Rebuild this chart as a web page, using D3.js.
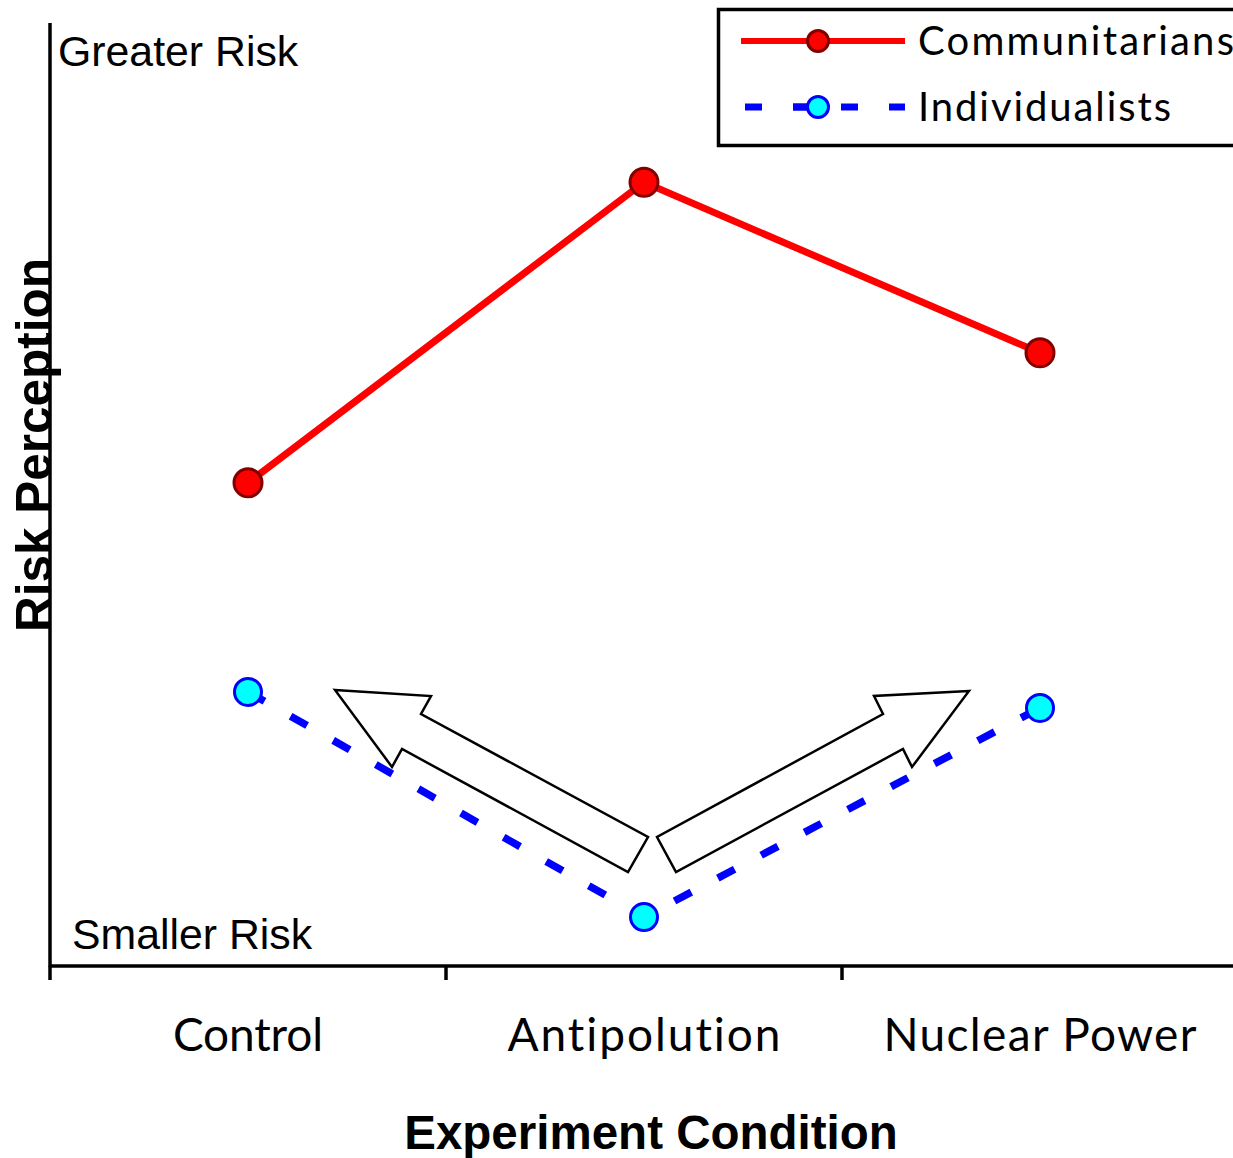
<!DOCTYPE html>
<html>
<head>
<meta charset="utf-8">
<script src="https://cdn.jsdelivr.net/npm/d3@7"></script>
<style>
  body { margin: 0; background: #fff; }
  svg { display: block; }
  text { font-variant-ligatures: none; }
</style>
</head>
<body>
<svg id="chart" width="1233" height="1158"></svg>
<script>
// data (arbitrary risk units, no tick labels on the y axis)
const categories = ["Control", "Antipolution", "Nuclear Power"];
const communitarians = [5.14, 8.33, 6.52];
const individualists = [2.92, 0.53, 2.75];
const seriesNames = ["Communitarians", "Individualists"];

const svg = d3.select("#chart");

const x = d3.scaleBand().domain(categories).range([50, 1238]);
const y = d3.scaleLinear().domain([0, 10]).range([967, 25]);
const cx = (d) => x(d) + x.bandwidth() / 2;

// axes
const xAxis = svg.append("g").attr("transform", "translate(0,966)");
xAxis.append("line").attr("x1", 49).attr("x2", 1240).attr("stroke", "#000").attr("stroke-width", 3.5);
xAxis.selectAll("line.tick")
  .data(categories.map((c) => x(c)))
  .enter().append("line")
  .attr("class", "tick")
  .attr("x1", (d) => d).attr("x2", (d) => d)
  .attr("y1", 0).attr("y2", 14)
  .attr("stroke", "#000").attr("stroke-width", 3.5);

svg.append("line")
  .attr("x1", 50).attr("x2", 50)
  .attr("y1", 23).attr("y2", 967)
  .attr("stroke", "#000").attr("stroke-width", 3.5);

// category labels
const labelWidths = [150, 273, 313];
svg.selectAll("text.cat")
  .data(categories)
  .enter().append("text")
  .attr("class", "cat")
  .attr("x", (d) => cx(d))
  .attr("y", 1051)
  .attr("text-anchor", "middle")
  .attr("font-family", "Lato, 'Open Sans', sans-serif")
  .attr("font-size", 46)
  .attr("textLength", (d, i) => labelWidths[i])
  .attr("lengthAdjust", "spacing")
  .text((d) => d);

// axis titles
svg.append("text")
  .attr("x", 651).attr("y", 1149)
  .attr("text-anchor", "middle")
  .attr("font-family", "'Liberation Sans', Arial, sans-serif")
  .attr("font-weight", "bold")
  .attr("font-size", 47.5)
  .text("Experiment Condition");

svg.append("text")
  .attr("transform", "translate(51,445) rotate(-90)")
  .attr("text-anchor", "middle")
  .attr("font-family", "'Liberation Sans', Arial, sans-serif")
  .attr("font-weight", "bold")
  .attr("font-size", 49.5)
  .text("Risk Perception");

svg.append("text")
  .attr("x", 58).attr("y", 66)
  .attr("font-family", "'Liberation Sans', Arial, sans-serif")
  .attr("font-size", 42.8)
  .text("Greater Risk");

svg.append("text")
  .attr("x", 72).attr("y", 949)
  .attr("font-family", "'Liberation Sans', Arial, sans-serif")
  .attr("font-size", 42.8)
  .text("Smaller Risk");

// block arrows (annotation)
const arrows = [
  [[335, 690], [431, 696], [421, 714], [648, 837], [628, 872], [402, 749], [392, 767]],
  [[969, 691], [874, 696], [883, 714], [657, 837], [676, 872], [903, 749], [912, 767]]
];
svg.selectAll("path.arrow")
  .data(arrows)
  .enter().append("path")
  .attr("class", "arrow")
  .attr("d", (d) => "M" + d.join("L") + "Z")
  .attr("fill", "#fff")
  .attr("stroke", "#000")
  .attr("stroke-width", 2.5)
  .attr("stroke-linejoin", "miter");

const line = d3.line().x((d, i) => cx(categories[i])).y((d) => y(d));

// individualists
svg.append("path")
  .datum(individualists)
  .attr("d", line)
  .attr("fill", "none")
  .attr("stroke", "#0000ff")
  .attr("stroke-width", 7.5)
  .attr("stroke-dasharray", "19,30");

svg.selectAll("circle.ind")
  .data(individualists)
  .enter().append("circle")
  .attr("class", "ind")
  .attr("cx", (d, i) => cx(categories[i]))
  .attr("cy", (d) => y(d))
  .attr("r", 13.5)
  .attr("fill", "#00ffff")
  .attr("stroke", "#0000ff")
  .attr("stroke-width", 3);

// communitarians
svg.append("path")
  .datum(communitarians)
  .attr("d", line)
  .attr("fill", "none")
  .attr("stroke", "#ff0000")
  .attr("stroke-width", 7);

svg.selectAll("circle.com")
  .data(communitarians)
  .enter().append("circle")
  .attr("class", "com")
  .attr("cx", (d, i) => cx(categories[i]))
  .attr("cy", (d) => y(d))
  .attr("r", 14)
  .attr("fill", "#ff0000")
  .attr("stroke", "#800000")
  .attr("stroke-width", 3);

// legend
const legend = svg.append("g");
legend.append("rect")
  .attr("x", 718.5).attr("y", 9.5)
  .attr("width", 600).attr("height", 136)
  .attr("fill", "#fff")
  .attr("stroke", "#000")
  .attr("stroke-width", 3.5);

const legendY = [41, 107];
const legendTextW = [316, 253];

legend.append("line")
  .attr("x1", 741).attr("x2", 905)
  .attr("y1", legendY[0]).attr("y2", legendY[0])
  .attr("stroke", "#ff0000").attr("stroke-width", 6);
legend.append("circle")
  .attr("cx", 818).attr("cy", legendY[0]).attr("r", 10.5)
  .attr("fill", "#ff0000").attr("stroke", "#800000").attr("stroke-width", 3);

legend.append("line")
  .attr("x1", 745).attr("x2", 905)
  .attr("y1", legendY[1]).attr("y2", legendY[1])
  .attr("stroke", "#0000ff").attr("stroke-width", 7)
  .attr("stroke-dasharray", "17,31");
legend.append("line")
  .attr("x1", 793).attr("x2", 818)
  .attr("y1", legendY[1]).attr("y2", legendY[1])
  .attr("stroke", "#0000ff").attr("stroke-width", 7);
legend.append("circle")
  .attr("cx", 818).attr("cy", legendY[1]).attr("r", 10.5)
  .attr("fill", "#00ffff").attr("stroke", "#0000ff").attr("stroke-width", 3);

legend.selectAll("text.leg")
  .data(seriesNames)
  .enter().append("text")
  .attr("class", "leg")
  .attr("x", 918)
  .attr("y", (d, i) => legendY[i] + 14)
  .attr("font-family", "Lato, 'Open Sans', sans-serif")
  .attr("font-size", 40)
  .attr("textLength", (d, i) => legendTextW[i])
  .attr("lengthAdjust", "spacing")
  .text((d) => d);
</script>
</body>
</html>
